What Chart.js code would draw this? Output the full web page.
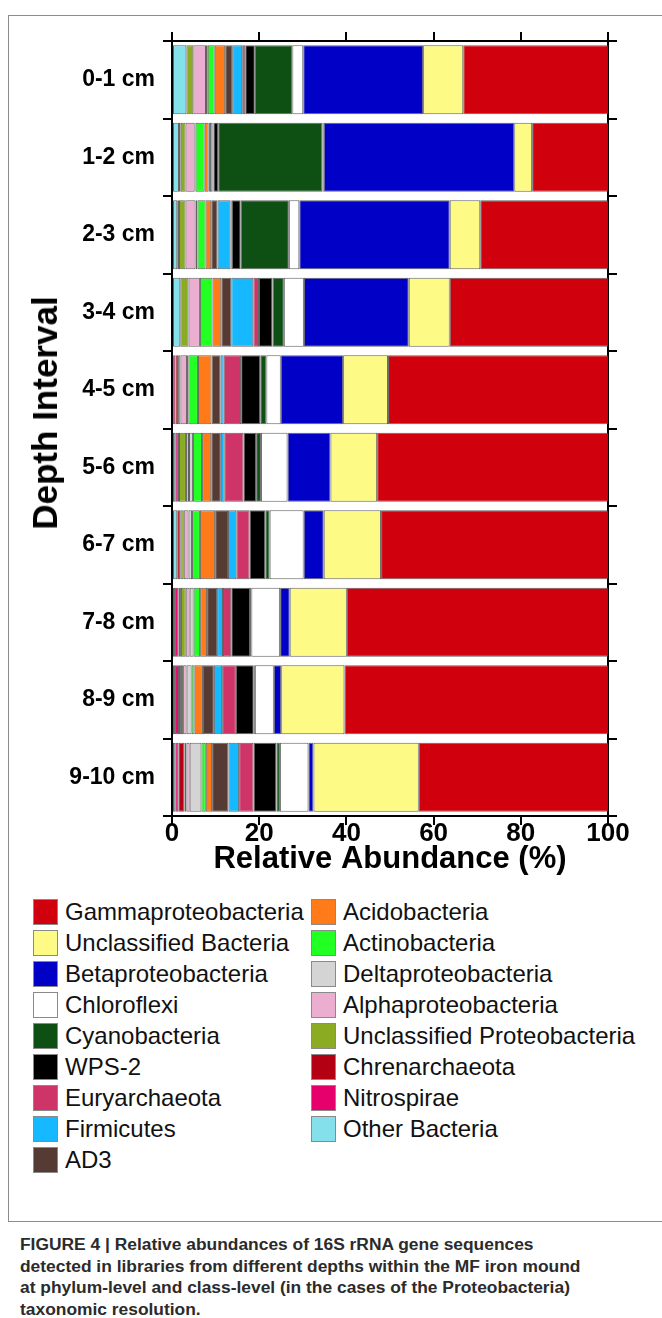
<!DOCTYPE html>
<html>
<head>
<meta charset="utf-8">
<script src="https://cdn.jsdelivr.net/npm/chart.js@4/dist/chart.umd.min.js"></script>
<style>
  html, body { margin: 0; padding: 0; background: #fff; }
  body { width: 662px; height: 1318px; position: relative; overflow: hidden;
         font-family: "Liberation Sans", Arial, sans-serif; }
  #frame { position: absolute; left: 8px; top: 15px; width: 670px; height: 1207px;
           border: 1.5px solid #8c8c8c; box-sizing: border-box; }
  #chartBox { position: absolute; left: 0; top: 0; width: 662px; height: 878px; }
  #ytitle { position: absolute; left: 45px; top: 413px; transform: translate(-50%, -50%) rotate(-90deg);
            font: bold 35px "Liberation Sans", Arial, sans-serif; color: #000; white-space: nowrap; }
  .lg { position: absolute; height: 26px; display: flex; align-items: center;
        font: 24px "Liberation Sans", Arial, sans-serif; color: #111; white-space: nowrap; }
  .lg .sw { width: 25px; height: 26px; box-sizing: border-box; border: 1px solid #8a8a8a; margin-right: 7px; flex: none; }
  #caption { position: absolute; left: 20px; top: 1234px; width: 640px;
             font: bold 17.4px "Liberation Sans", Arial, sans-serif; line-height: 21.5px; color: #2b2b2b; }
</style>
</head>
<body>
<div id="frame"></div>
<div id="chartBox"><canvas id="c" width="662" height="878"></canvas></div>
<div id="ytitle">Depth Interval</div>
<div id="legend"></div>
<div id="caption">FIGURE 4 | Relative abundances of 16S rRNA gene sequences<br>detected in libraries from different depths within the MF iron mound<br>at phylum-level and class-level (in the cases of the Proteobacteria)<br>taxonomic resolution.</div>
<script>
// Depth intervals (top to bottom)
const depths = ["0-1 cm", "1-2 cm", "2-3 cm", "3-4 cm", "4-5 cm", "5-6 cm", "6-7 cm", "7-8 cm", "8-9 cm", "9-10 cm"];
const xTicks = [0, 20, 40, 60, 80, 100];

// Relative abundance (%) of each group, one value per depth interval
const otherBacteria          = [3.3, 1.6, 1.2, 1.9, 0.25, 0.75, 1.2, 0.7, 0.7, 0.75];
const nitrospirae            = [0, 0, 0, 0, 0.55, 0.6, 0, 0.75, 0.9, 0.7];
const chrenarchaeota         = [0, 0.4, 0.4, 0, 0.6, 0.25, 0.7, 0.6, 0.45, 1.4];
const unclassifiedProteo     = [1.6, 1.1, 1.5, 1.9, 0.55, 1.6, 0.8, 1.1, 0.5, 0.45];
const alphaproteobacteria    = [2.9, 2.1, 2.3, 2.6, 1.5, 0.7, 1.1, 0.9, 0.8, 0.75];
const deltaproteobacteria    = [0.4, 0.2, 0.45, 0, 0.3, 0.9, 0.8, 0.9, 1.15, 2.7];
const actinobacteria         = [1.6, 2.1, 1.85, 2.9, 2.2, 2.1, 1.8, 1.5, 0.7, 1.0];
const acidobacteria          = [2.4, 0.9, 1.3, 2.0, 3.1, 2.1, 3.5, 1.6, 1.9, 1.45];
const ad3                    = [1.6, 0.3, 1.45, 2.3, 2.1, 2.2, 2.95, 2.3, 2.5, 3.75];
const firmicutes             = [2.3, 0.6, 2.95, 5.05, 0.7, 0.9, 1.9, 1.35, 1.9, 2.45];
const euryarchaeota          = [0.7, 0.2, 0.3, 1.3, 4.0, 4.3, 3.05, 1.9, 3.15, 3.3];
const wps2                   = [2.2, 1.1, 2.05, 3.1, 4.4, 2.9, 3.6, 4.3, 4.1, 5.25];
const cyanobacteria          = [8.6, 23.9, 11.05, 2.6, 1.4, 1.1, 1.0, 0.3, 0.25, 0.8];
const chloroflexi            = [2.5, 0.3, 2.4, 4.6, 3.3, 6.1, 7.8, 6.6, 4.35, 6.55];
const betaproteobacteria     = [27.5, 43.7, 34.5, 24.05, 14.3, 9.85, 4.6, 2.2, 1.7, 1.15];
const unclassifiedBacteria   = [9.2, 4.1, 7.0, 9.4, 10.3, 10.7, 13.15, 13.1, 14.5, 24.15];
const gammaproteobacteria    = [33.2, 17.4, 29.3, 36.3, 50.45, 52.95, 52.05, 59.9, 60.45, 43.4];

// Stack order, left to right
const seriesNames = ["Other Bacteria", "Nitrospirae", "Chrenarchaeota", "Unclassified Proteobacteria",
  "Alphaproteobacteria", "Deltaproteobacteria", "Actinobacteria", "Acidobacteria", "AD3", "Firmicutes",
  "Euryarchaeota", "WPS-2", "Cyanobacteria", "Chloroflexi", "Betaproteobacteria", "Unclassified Bacteria",
  "Gammaproteobacteria"];
const seriesValues = [otherBacteria, nitrospirae, chrenarchaeota, unclassifiedProteo, alphaproteobacteria,
  deltaproteobacteria, actinobacteria, acidobacteria, ad3, firmicutes, euryarchaeota, wps2, cyanobacteria,
  chloroflexi, betaproteobacteria, unclassifiedBacteria, gammaproteobacteria];
const seriesColors = ["#84e1eb", "#e6006c", "#b30012", "#8aab22", "#ebadd0", "#d4d4d4", "#22ff22", "#ff7b1a",
  "#553b33", "#16b9ff", "#cf3468", "#000000", "#0e5014", "#ffffff", "#0000c6", "#fdfa86", "#d1000d"];

const datasets = seriesNames.map((name, i) => ({
  label: name,
  data: seriesValues[i],
  backgroundColor: seriesColors[i],
  borderColor: "rgba(70,70,70,0.85)",
  borderWidth: 1,
  borderSkipped: false,
  categoryPercentage: 1,
  barPercentage: 0.89
}));

const FONT = '"Liberation Sans", Arial, sans-serif';
const axisGrid = { drawOnChartArea: false, drawTicks: true, tickLength: 9, lineWidth: 2, color: "#000" };
const axisBorder = { display: true, color: "#000", width: 2 };

new Chart(document.getElementById("c"), {
  type: "bar",
  data: { labels: depths, datasets },
  options: {
    responsive: false,
    animation: false,
    devicePixelRatio: 1,
    indexAxis: "y",
    layout: { padding: 0 },
    plugins: { legend: { display: false }, tooltip: { enabled: false } },
    scales: {
      x: {
        type: "linear", position: "bottom", stacked: true, min: 0, max: 100,
        afterBuildTicks: s => { s.ticks = xTicks.map(v => ({ value: v })); },
        ticks: { color: "#000", font: { family: FONT, size: 26, weight: "bold" }, padding: -7, maxRotation: 0 },
        grid: axisGrid, border: axisBorder,
        title: { display: true, text: "Relative Abundance (%)", color: "#000",
                 font: { family: FONT, size: 31, weight: "bold" }, padding: { top: 0, bottom: 0 } },
        afterFit: s => { s.height = 62; }
      },
      x2: {
        type: "linear", axis: "x", position: "top", min: 0, max: 100,
        afterBuildTicks: s => { s.ticks = xTicks.map(v => ({ value: v })); },
        ticks: { display: false },
        grid: axisGrid, border: axisBorder,
        afterFit: s => { s.height = 41; }
      },
      y: {
        type: "category", position: "left", stacked: true, offset: true,
        grid: Object.assign({ offset: true }, axisGrid), border: axisBorder,
        ticks: { color: "#000", font: { family: FONT, size: 23, weight: "bold" }, padding: 8 },
        afterFit: s => { s.width = 172; }
      },
      y2: {
        type: "category", axis: "y", position: "right", labels: depths, offset: true,
        grid: Object.assign({ offset: true }, axisGrid), border: axisBorder,
        ticks: { display: false },
        afterFit: s => { s.width = 54; }
      }
    }
  }
});

// Legend: reverse of stack order, two columns
const legend = document.getElementById("legend");
const legendOrder = seriesNames.map((n, i) => i).reverse();
legendOrder.forEach((idx, k) => {
  const col = k < 9 ? 0 : 1;
  const row = col === 0 ? k : k - 9;
  const item = document.createElement("div");
  item.className = "lg";
  item.style.left = (col === 0 ? 33 : 311) + "px";
  item.style.top = (899 + row * 31) + "px";
  const sw = document.createElement("span");
  sw.className = "sw";
  sw.style.background = seriesColors[idx];
  item.appendChild(sw);
  item.appendChild(document.createTextNode(seriesNames[idx]));
  legend.appendChild(item);
});
</script>
</body>
</html>
